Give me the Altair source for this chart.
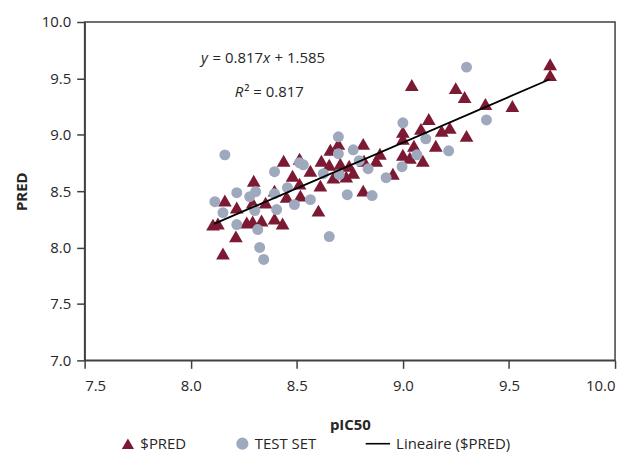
import altair as alt
import pandas as pd

# ---- data ----
pred_x = [8.105, 8.128, 8.161, 8.152, 8.217, 8.213, 8.264, 8.292, 8.297, 8.292,
          8.334, 8.353, 8.395, 8.395, 8.433, 8.438, 8.480, 8.452, 8.513, 8.513,
          8.517, 8.564, 8.602, 8.611, 8.616, 8.653, 8.658, 8.696, 8.705, 8.672,
          8.733, 8.747, 8.766, 8.813, 8.817, 8.813, 8.874, 8.892, 8.953, 9.000,
          9.000, 9.000, 9.033, 9.042, 9.052, 9.085, 9.094, 9.122, 9.155, 9.183,
          9.221, 9.249, 9.291, 9.300, 9.389, 9.516, 9.694, 9.694]
pred_y = [8.204, 8.213, 8.417, 7.948, 8.355, 8.099, 8.222, 8.231, 8.593, 8.399,
          8.240, 8.399, 8.505, 8.257, 8.213, 8.770, 8.637, 8.451, 8.788, 8.567,
          8.461, 8.681, 8.328, 8.549, 8.770, 8.735, 8.867, 8.920, 8.743, 8.620,
          8.629, 8.726, 8.664, 8.920, 8.770, 8.505, 8.770, 8.832, 8.655, 9.026,
          8.964, 8.823, 8.796, 9.441, 8.903, 9.053, 8.770, 9.140, 8.903, 9.035,
          9.061, 9.414, 9.335, 8.990, 9.273, 9.255, 9.626, 9.529]

test_x = [8.161, 8.114, 8.152, 8.217, 8.217, 8.278, 8.306, 8.302, 8.316, 8.325,
          8.344, 8.395, 8.395, 8.405, 8.456, 8.489, 8.513, 8.531, 8.564, 8.625,
          8.653, 8.696, 8.696, 8.700, 8.738, 8.766, 8.794, 8.836, 8.855, 8.921,
          8.996, 9.000, 9.066, 9.108, 9.216, 9.300, 9.394]
test_y = [8.822, 8.407, 8.310, 8.487, 8.204, 8.452, 8.496, 8.328, 8.160, 8.001,
          7.895, 8.673, 8.478, 8.337, 8.531, 8.381, 8.752, 8.734, 8.425, 8.655,
          8.098, 8.982, 8.832, 8.646, 8.469, 8.867, 8.770, 8.699, 8.461, 8.620,
          8.717, 9.106, 8.823, 8.964, 8.858, 9.600, 9.132]

line_x = [8.11, 9.69]
line_y = [8.21, 9.49]

series_names = ["$PRED", "TEST SET", "Lineaire ($PRED)"]
x_ticks = [7.5, 8.0, 8.5, 9.0, 9.5, 10.0]
y_ticks = [7.0, 7.5, 8.0, 8.5, 9.0, 9.5, 10.0]

eq_parts = ["y", "= 0.817", "x", "+ 1.585"]
r2_parts = ["R", "² = 0.817"]
eq_anchor_x, eq_anchor_y = 8.049, 9.685
r2_anchor_x, r2_anchor_y = 8.208, 9.38

x_title = "pIC50"
y_title = "PRED"

# ---- build tables ----
df_pred = pd.DataFrame({"x": pred_x, "y": pred_y, "series": series_names[0]})
df_test = pd.DataFrame({"x": test_x, "y": test_y, "series": series_names[1]})
df_line = pd.DataFrame({"x": line_x, "y": line_y})

FONT = "Open Sans"
MAROON = "#7C1A34"
GREY = "#9EA9BE"

xscale = alt.Scale(domain=[7.5, 10.0], nice=False, zero=False)
yscale = alt.Scale(domain=[7.0, 10.0], nice=False, zero=False)

xaxis = alt.Axis(values=x_ticks, format=".1f", title=x_title, grid=False,
                 tickSize=8, labelPadding=10, titlePadding=24)
yaxis = alt.Axis(values=y_ticks, format=".1f", title=y_title, grid=False,
                 tickSize=8, labelPadding=6, titlePadding=12)

color_scale = alt.Scale(domain=series_names, range=[MAROON, GREY, "#000000"])
# third legend symbol: a thin filled bar standing for the trend line
shape_scale = alt.Scale(domain=series_names,
                        range=["triangle-up", "circle", "M-1,-0.13H3V0.13H-1Z"])

legend = alt.Legend(
    orient="none", legendX=36, legendY=416, direction="horizontal", title=None,
    labelFont=FONT, labelFontSize=15, labelColor="#262626", symbolSize=150,
    columnPadding=48, symbolOpacity=1,
    labelOffset=alt.ExprRef(expr="datum.value === 'Lineaire ($PRED)' ? 17 : 5"),
    symbolStrokeWidth=0,
)

def pts(df, size):
    return alt.Chart(df).mark_point(filled=True, size=size, opacity=1).encode(
        x=alt.X("x:Q", scale=xscale, axis=xaxis),
        y=alt.Y("y:Q", scale=yscale, axis=yaxis),
        color=alt.Color("series:N", scale=color_scale, legend=legend),
        shape=alt.Shape("series:N", scale=shape_scale, legend=legend),
    )

tri = pts(df_pred, 190)
cir = pts(df_test, 121)

line = alt.Chart(df_line).mark_line(color="black", strokeWidth=1.8).encode(
    x="x:Q", y="y:Q"
)

eq_offsets = [0, 11.5, 62.3, 73.8]
eq_styles = ["italic", "normal", "italic", "normal"]
texts = []
for part, dx, st in zip(eq_parts, eq_offsets, eq_styles):
    texts.append(
        alt.Chart(pd.DataFrame({"x": [eq_anchor_x], "y": [eq_anchor_y], "t": [part]}))
        .mark_text(align="left", baseline="middle", dx=dx, font=FONT, fontSize=15,
                   fontStyle=st, color="#262626")
        .encode(x="x:Q", y="y:Q", text="t:N")
    )
r2_offsets = [0, 9.5]
r2_styles = ["italic", "normal"]
for part, dx, st in zip(r2_parts, r2_offsets, r2_styles):
    texts.append(
        alt.Chart(pd.DataFrame({"x": [r2_anchor_x], "y": [r2_anchor_y], "t": [part]}))
        .mark_text(align="left", baseline="middle", dx=dx, font=FONT, fontSize=15,
                   fontStyle=st, color="#262626")
        .encode(x="x:Q", y="y:Q", text="t:N")
    )

chart = alt.layer(tri, cir, line, *texts).properties(
    width=533, height=340,
    autosize=alt.AutoSizeParams(type="none"),
    padding={"left": 77, "top": 13, "right": 10, "bottom": 92},
).configure_view(
    stroke="#404040", strokeWidth=1.5
).configure_axis(
    domainColor="#404040", domainWidth=1.5, tickColor="#404040", tickWidth=1.5,
    labelFont=FONT, labelFontSize=15, labelColor="#262626",
    titleFont=FONT, titleFontSize=15, titleFontWeight="bold", titleColor="#262626",
)

chart.save("out.html", embed_options={"renderer": "svg", "actions": False})
